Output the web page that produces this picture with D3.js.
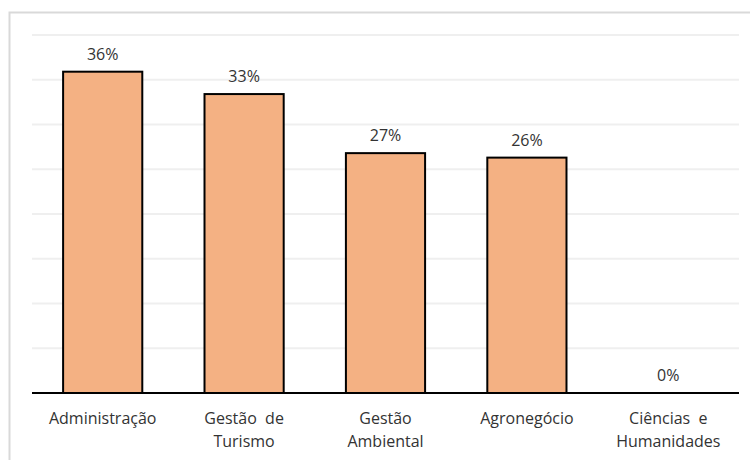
<!DOCTYPE html>
<html><head><meta charset="utf-8">
<script src="https://cdn.jsdelivr.net/npm/d3@7"></script>
<style>body{margin:0;background:#fff}svg{display:block}</style>
</head><body>
<script>
const categories = [["Administração"],["Gestão  de","Turismo"],["Gestão","Ambiental"],["Agronegócio"],["Ciências  e","Humanidades"]];
const values = [35.9, 33.4, 26.8, 26.3, 0];
const labels = ["36%","33%","27%","26%","0%"];
const gridTicks = [0,5,10,15,20,25,30,35,40];

(function(){
const W = 750, H = 460;
const svg = d3.select("body").append("svg").attr("width", W).attr("height", H);
svg.append("rect").attr("x", 9.5).attr("y", 12.5).attr("width", 760).attr("height", 460)
  .attr("fill", "#fff").attr("stroke", "#d9d9d9").attr("stroke-width", 2);

const mLeft = 32, mRight = 739, mTop = 35, mBottom = 393;
const x = d3.scaleBand().domain(d3.range(values.length)).range([mLeft, mRight]).paddingInner(0.44).paddingOuter(0.22);
const y = d3.scaleLinear().domain([0, 40]).range([mBottom, mTop]);

svg.append("g").selectAll("line").data(gridTicks.slice(1)).join("line")
  .attr("x1", mLeft).attr("x2", mRight).attr("y1", d => y(d)).attr("y2", d => y(d))
  .attr("stroke", "#efefef").attr("stroke-width", 2);

svg.append("g").selectAll("rect").data(values).join("rect")
  .attr("x", (d,i) => x(i)).attr("width", x.bandwidth())
  .attr("y", d => y(d)).attr("height", d => mBottom - y(d))
  .attr("fill", "#F4B183").attr("stroke", "#000").attr("stroke-width", 2)
  .style("display", d => d > 0 ? null : "none");

svg.append("line").attr("x1", mLeft).attr("x2", mRight).attr("y1", mBottom).attr("y2", mBottom)
  .attr("stroke", "#000").attr("stroke-width", 2);

const font = "'Open Sans', sans-serif";
svg.append("g").selectAll("text").data(values).join("text")
  .attr("x", (d,i) => x(i) + x.bandwidth()/2).attr("y", d => y(d) - 12)
  .attr("text-anchor", "middle").attr("font-family", font).attr("font-size", 16).attr("fill", "#333")
  .text((d,i) => labels[i]);

const cat = svg.append("g").selectAll("text").data(categories).join("text")
  .attr("x", (d,i) => x(i) + x.bandwidth()/2).attr("y", 424)
  .attr("text-anchor", "middle").attr("font-family", font).attr("font-size", 16).attr("fill", "#333")
  .style("white-space", "pre");
cat.selectAll("tspan").data(d => d).join("tspan")
  .attr("x", function(){ return this.parentNode.getAttribute("x"); })
  .attr("dy", (d,i) => i ? 23 : 0).text(d => d);
})();
</script>
</body></html>
